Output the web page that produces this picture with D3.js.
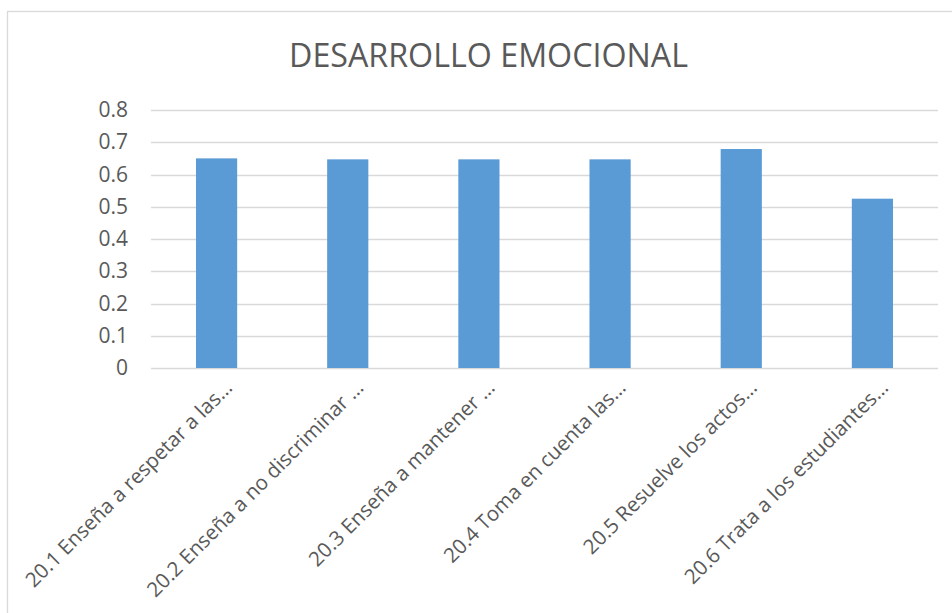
<!DOCTYPE html>
<html>
<head>
<meta charset="utf-8">
<script src="https://cdn.jsdelivr.net/npm/d3@7"></script>
<style>
  body { margin: 0; background: #fff; }
  text { font-family: "Open Sans", sans-serif; fill: #595959; }
</style>
</head>
<body>
<script>
var categorias = [
  "20.1 Enseña a respetar a las…",
  "20.2 Enseña a no discriminar …",
  "20.3 Enseña a mantener …",
  "20.4 Toma en cuenta las…",
  "20.5 Resuelve los actos…",
  "20.6 Trata a los estudiantes…"
]
var valores = [0.65, 0.647, 0.647, 0.647, 0.679, 0.525]
var ticksY = [0, 0.1, 0.2, 0.3, 0.4, 0.5, 0.6, 0.7, 0.8]

var width = 952
var height = 613
var margin = { top: 110, bottom: 245, left: 151, right: 14 }

var svg = d3.select("body")
  .append("svg")
  .attr("width", width)
  .attr("height", height)

// marco del grafico
svg.append("rect")
  .attr("x", 7.5)
  .attr("y", 11.5)
  .attr("width", 960)
  .attr("height", 620)
  .attr("fill", "none")
  .attr("stroke", "#d9d9d9")
  .attr("stroke-width", 1.3)

svg.append("text")
  .attr("x", 488.5)
  .attr("y", 67)
  .attr("text-anchor", "middle")
  .attr("font-size", 32)
  .attr("textLength", 399)
  .attr("lengthAdjust", "spacingAndGlyphs")
  .text("DESARROLLO EMOCIONAL")

var escalaX = d3.scaleBand()
  .domain(categorias)
  .range([margin.left, width - margin.right])
  .paddingInner(0.686)
  .paddingOuter(0.343)

var escalaY = d3.scaleLinear()
  .domain([0, 0.8])
  .range([height - margin.bottom, margin.top])

// lineas de cuadricula
svg.append("g")
  .selectAll("line")
  .data(ticksY)
  .enter()
  .append("line")
    .attr("x1", margin.left)
    .attr("x2", width - margin.right)
    .attr("y1", d => Math.round(escalaY(d)) + 0.5)
    .attr("y2", d => Math.round(escalaY(d)) + 0.5)
    .attr("stroke", "#d9d9d9")
    .attr("stroke-width", 1.3)

var ejeY = d3.axisLeft(escalaY)
  .tickValues(ticksY)
  .tickFormat(d => d3.format("")(+d.toFixed(1)))
  .tickSize(0)
  .tickPadding(0)

svg.append("g")
  .attr("transform", "translate(128,0)")
  .call(ejeY)
  .call(g => g.select(".domain").remove())
  .selectAll("text")
    .attr("font-family", "Open Sans")
    .attr("font-size", 21)
    .attr("fill", "#595959")

svg.append("g")
  .selectAll("rect")
  .data(valores)
  .enter()
  .append("rect")
    .attr("x", (d, i) => escalaX(categorias[i]))
    .attr("y", d => escalaY(d))
    .attr("width", escalaX.bandwidth())
    .attr("height", d => escalaY(0) - escalaY(d))
    .attr("fill", "#5b9bd5")

// etiquetas del eje x
svg.append("g")
  .selectAll("text")
  .data(categorias)
  .enter()
  .append("text")
    .attr("transform", d => "translate(" + (escalaX(d) + escalaX.bandwidth() / 2 + 17) + ",389) rotate(-45)")
    .attr("text-anchor", "end")
    .attr("font-size", 20.5)
    .text(d => d)
</script>
</body>
</html>
